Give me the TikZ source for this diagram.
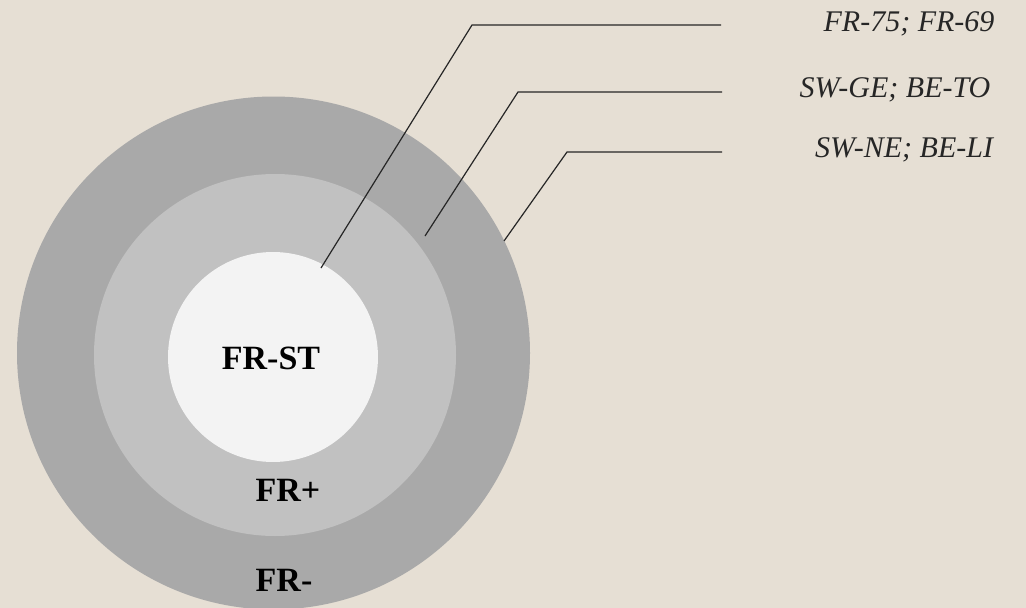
\documentclass[tikz,border=0pt]{standalone}
\usepackage{fontspec}
\setmainfont{Liberation Serif}
\definecolor{bg}{HTML}{E6DFD4}
\definecolor{ringout}{HTML}{A9A9A9}
\definecolor{ringmid}{HTML}{C1C1C1}
\definecolor{ringin}{HTML}{F3F3F3}
\tikzset{
  disc/.style={circle, inner sep=0pt, draw=none},
  boldlab/.style={font=\fontsize{34}{38}\selectfont\bfseries, text=black, inner sep=0pt},
  itlab/.style={font=\fontsize{30}{34}\selectfont\itshape, text=black!85, inner sep=0pt},
  leader/.style={draw=black!85, line width=1.2pt}
}
\begin{document}
\begin{tikzpicture}[x=1pt, y=-1pt]
\fill[bg] (0,0) rectangle (1026,608);
\useasboundingbox (0,0) rectangle (1026,608);
\node[disc, fill=ringout, minimum size=513pt] (outer) at (273.5,353) {};
\node[disc, fill=ringmid, minimum size=362pt] (middle) at (275,355) {};
\node[disc, fill=ringin, minimum size=210pt] (inner) at (273,357) {};
\node[boldlab] (frst) at (271,358) {FR-ST};
\node[boldlab] (frplus) at (288,490) {FR+};
\node[boldlab] (frminus) at (284,580) {FR-};
\node[itlab] (l1) at (909,24) {FR-75; FR-69};
\node[itlab] (l2) at (895,90) {SW-GE; BE-TO};
\node[itlab] (l3) at (904,150) {SW-NE; BE-LI};
\coordinate (e1) at (321,268);
\coordinate (c1) at (472,25);
\coordinate (r1) at (721,25);
\coordinate (e2) at (425,236);
\coordinate (c2) at (518,92);
\coordinate (r2) at (722,92);
\coordinate (e3) at (504,241);
\coordinate (c3) at (567,152);
\coordinate (r3) at (722,152);
\draw[leader] (e1) -- (c1) -- (r1);
\draw[leader] (e2) -- (c2) -- (r2);
\draw[leader] (e3) -- (c3) -- (r3);
\end{tikzpicture}
\end{document}
